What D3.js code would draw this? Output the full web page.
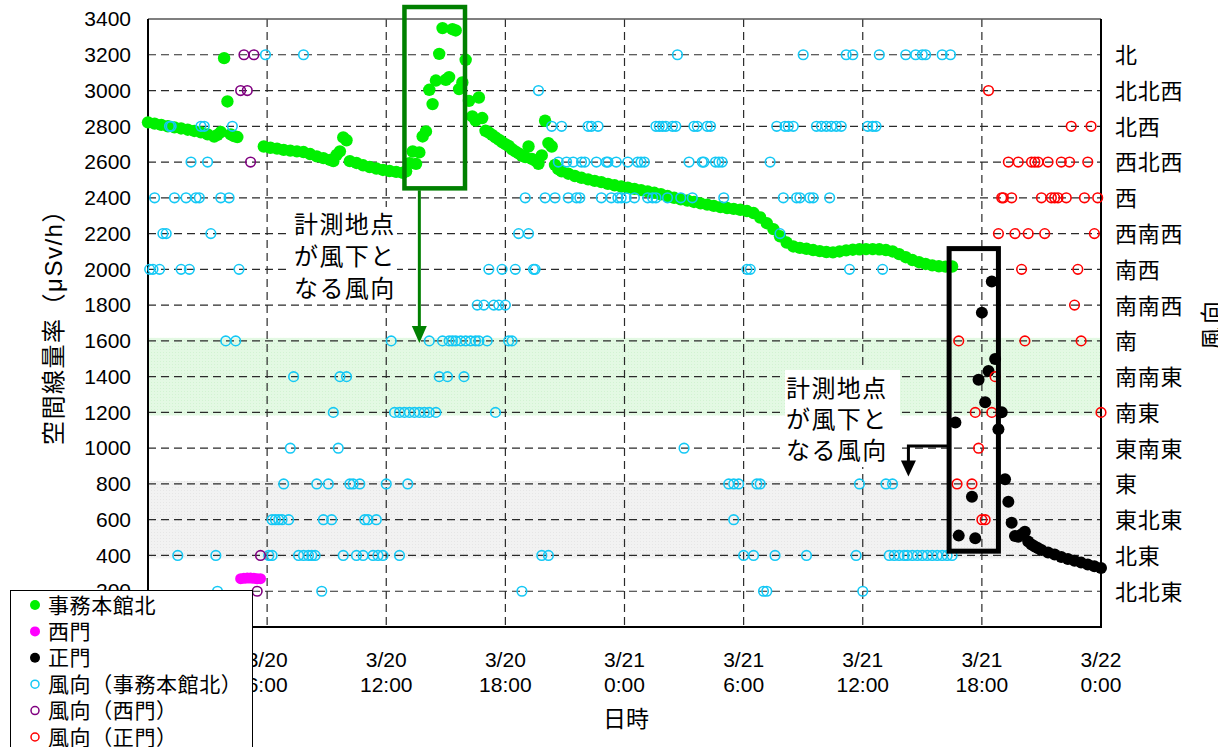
<!DOCTYPE html>
<html>
<head>
<meta charset="utf-8">
<script src="https://cdn.jsdelivr.net/npm/d3@7"></script>
<style>
  body { margin: 0; background: #fff; }
  svg { display: block; }
  text { font-family: "Liberation Sans", "Noto Sans CJK JP", sans-serif; fill: #000; }
  .cjk { font-family: "Noto Sans CJK JP", sans-serif; }
  .num { font-family: "Liberation Sans", Arial, sans-serif; }
</style>
</head>
<body>
<svg id="chart" width="1218" height="747"></svg>
<script>
// ---- axis values ----
const timeTicks = ["3/20 0:00", "3/20 6:00", "3/20 12:00", "3/20 18:00", "3/21 0:00",
                   "3/21 6:00", "3/21 12:00", "3/21 18:00", "3/22 0:00"];
const doseTicks = [0, 200, 400, 600, 800, 1000, 1200, 1400, 1600, 1800, 2000,
                   2200, 2400, 2600, 2800, 3000, 3200, 3400];
const directions = ["北北東", "北東", "東北東", "東", "東南東", "南東", "南南東", "南",
                    "南南西", "南西", "西南西", "西", "西北西", "北西", "北北西", "北"];
const legendLabels = ["事務本館北", "西門", "正門", "風向（事務本館北）", "風向（西門）", "風向（正門）"];

// shaded direction ranges (leeward sectors)
const leewardBand = ["南東", "南"];
const otherBand = ["北東", "東"];

// ---- air dose rate (μSv/h) ----
const officeDose = [
  ["3/20 0:00", 2822], ["3/20 0:20", 2815], ["3/20 0:40", 2808], ["3/20 1:00", 2800],
  ["3/20 1:20", 2794], ["3/20 1:40", 2788], ["3/20 2:00", 2781], ["3/20 2:20", 2774],
  ["3/20 2:40", 2766], ["3/20 3:00", 2755], ["3/20 3:20", 2742], ["3/20 3:30", 2752],
  ["3/20 3:40", 2768], ["3/20 3:50", 3181], ["3/20 4:00", 2939], ["3/20 4:10", 2755],
  ["3/20 4:20", 2745], ["3/20 4:30", 2740],
  ["3/20 5:50", 2687], ["3/20 6:10", 2680], ["3/20 6:30", 2675], ["3/20 6:50", 2668],
  ["3/20 7:10", 2664], ["3/20 7:30", 2660], ["3/20 7:50", 2656], ["3/20 8:10", 2645],
  ["3/20 8:30", 2632], ["3/20 8:50", 2622], ["3/20 9:10", 2612], ["3/20 9:20", 2605],
  ["3/20 9:30", 2640], ["3/20 9:40", 2660], ["3/20 9:50", 2738], ["3/20 10:00", 2722],
  ["3/20 10:10", 2605], ["3/20 10:30", 2595], ["3/20 10:50", 2582], ["3/20 11:10", 2572],
  ["3/20 11:30", 2564], ["3/20 11:50", 2556], ["3/20 12:10", 2550], ["3/20 12:30", 2545],
  ["3/20 12:50", 2540], ["3/20 13:00", 2548], ["3/20 13:10", 2594], ["3/20 13:20", 2659],
  ["3/20 13:30", 2590], ["3/20 13:40", 2654], ["3/20 13:50", 2743], ["3/20 14:00", 2771],
  ["3/20 14:10", 3004], ["3/20 14:20", 2924], ["3/20 14:30", 3056], ["3/20 14:40", 3205],
  ["3/20 14:50", 3349], ["3/20 15:00", 3060], ["3/20 15:10", 3075], ["3/20 15:20", 3343],
  ["3/20 15:30", 3336], ["3/20 15:40", 3008], ["3/20 15:50", 3045], ["3/20 16:00", 3172],
  ["3/20 16:10", 2942], ["3/20 16:20", 2855], ["3/20 16:30", 2832], ["3/20 16:40", 2961],
  ["3/20 16:50", 2846], ["3/20 17:00", 2775], ["3/20 17:10", 2765], ["3/20 17:20", 2752],
  ["3/20 17:30", 2738], ["3/20 17:40", 2725], ["3/20 17:50", 2712], ["3/20 18:00", 2700],
  ["3/20 18:10", 2690], ["3/20 18:20", 2672], ["3/20 18:30", 2660], ["3/20 18:40", 2648],
  ["3/20 18:50", 2635], ["3/20 19:00", 2628], ["3/20 19:10", 2687], ["3/20 19:20", 2618],
  ["3/20 19:30", 2608], ["3/20 19:40", 2590], ["3/20 19:50", 2637], ["3/20 20:00", 2831],
  ["3/20 20:10", 2706], ["3/20 20:20", 2687], ["3/20 20:30", 2584], ["3/20 20:40", 2560],
  ["3/20 20:50", 2548], ["3/20 21:10", 2535], ["3/20 21:30", 2522], ["3/20 21:50", 2512],
  ["3/20 22:10", 2503], ["3/20 22:30", 2495], ["3/20 22:50", 2488], ["3/20 23:10", 2478],
  ["3/20 23:30", 2470], ["3/20 23:50", 2463], ["3/21 0:10", 2457], ["3/21 0:30", 2450],
  ["3/21 0:50", 2443], ["3/21 1:10", 2436], ["3/21 1:30", 2428], ["3/21 1:50", 2420],
  ["3/21 2:10", 2410], ["3/21 2:30", 2400], ["3/21 2:50", 2392], ["3/21 3:10", 2385],
  ["3/21 3:30", 2377], ["3/21 3:50", 2369], ["3/21 4:10", 2362], ["3/21 4:30", 2355],
  ["3/21 4:50", 2348], ["3/21 5:10", 2343], ["3/21 5:30", 2338], ["3/21 5:50", 2333],
  ["3/21 6:10", 2326], ["3/21 6:30", 2315], ["3/21 6:50", 2290], ["3/21 7:10", 2258],
  ["3/21 7:30", 2225], ["3/21 7:50", 2185], ["3/21 8:10", 2150], ["3/21 8:30", 2128],
  ["3/21 8:50", 2120], ["3/21 9:10", 2115], ["3/21 9:30", 2108], ["3/21 9:50", 2102],
  ["3/21 10:10", 2097], ["3/21 10:30", 2095], ["3/21 10:50", 2100], ["3/21 11:10", 2106],
  ["3/21 11:30", 2110], ["3/21 11:50", 2112], ["3/21 12:10", 2113], ["3/21 12:30", 2113],
  ["3/21 12:50", 2112], ["3/21 13:10", 2108], ["3/21 13:30", 2100], ["3/21 13:50", 2085],
  ["3/21 14:10", 2068], ["3/21 14:30", 2052], ["3/21 14:50", 2040], ["3/21 15:10", 2030],
  ["3/21 15:30", 2022], ["3/21 15:50", 2017], ["3/21 16:10", 2015], ["3/21 16:30", 2016]
];

const westGateDose = [
  ["3/20 4:40", 270], ["3/20 4:50", 272], ["3/20 5:00", 274], ["3/20 5:10", 274],
  ["3/20 5:20", 272], ["3/20 5:30", 270], ["3/20 5:40", 270]
];

const mainGateDose = [
  ["3/21 16:40", 1143], ["3/21 16:50", 511], ["3/21 17:30", 729], ["3/21 17:40", 496],
  ["3/21 17:50", 1382], ["3/21 18:00", 1758], ["3/21 18:10", 1257], ["3/21 18:20", 1432],
  ["3/21 18:30", 1932], ["3/21 18:40", 1499], ["3/21 18:50", 1106], ["3/21 19:00", 1201],
  ["3/21 19:10", 826], ["3/21 19:20", 701], ["3/21 19:30", 583], ["3/21 19:40", 509],
  ["3/21 19:50", 505], ["3/21 20:00", 518], ["3/21 20:10", 532], ["3/21 20:20", 478],
  ["3/21 20:30", 462], ["3/21 20:40", 450], ["3/21 20:50", 440], ["3/21 21:00", 430],
  ["3/21 21:20", 417], ["3/21 21:40", 405], ["3/21 22:00", 392], ["3/21 22:20", 380],
  ["3/21 22:40", 370], ["3/21 23:00", 360], ["3/21 23:20", 350], ["3/21 23:40", 340],
  ["3/22 0:00", 330]
];

// ---- wind direction ----
const officeWind = [
  ["3/20 5:55", "北"], ["3/20 7:50", "北"], ["3/21 2:40", "北"], ["3/21 9:00", "北"],
  ["3/21 11:10", "北"], ["3/21 11:30", "北"], ["3/21 12:50", "北"], ["3/21 14:10", "北"],
  ["3/21 14:40", "北"], ["3/21 15:00", "北"], ["3/21 15:10", "北"], ["3/21 16:00", "北"],
  ["3/21 16:25", "北"],
  ["3/20 19:40", "北北西"],
  ["3/20 1:05", "北西"], ["3/20 1:10", "北西"], ["3/20 2:40", "北西"], ["3/20 2:50", "北西"],
  ["3/20 4:15", "北西"], ["3/20 20:20", "北西"], ["3/20 20:50", "北西"], ["3/20 22:10", "北西"],
  ["3/20 22:20", "北西"], ["3/20 22:40", "北西"], ["3/21 1:35", "北西"], ["3/21 1:45", "北西"],
  ["3/21 1:55", "北西"], ["3/21 2:05", "北西"], ["3/21 2:25", "北西"], ["3/21 2:35", "北西"],
  ["3/21 3:30", "北西"], ["3/21 3:40", "北西"], ["3/21 4:10", "北西"], ["3/21 4:20", "北西"],
  ["3/21 7:40", "北西"], ["3/21 8:05", "北西"], ["3/21 8:15", "北西"], ["3/21 8:30", "北西"],
  ["3/21 9:40", "北西"], ["3/21 9:55", "北西"], ["3/21 10:10", "北西"], ["3/21 10:25", "北西"],
  ["3/21 10:40", "北西"], ["3/21 10:55", "北西"], ["3/21 12:15", "北西"], ["3/21 12:30", "北西"],
  ["3/21 12:40", "北西"],
  ["3/20 2:10", "西北西"], ["3/20 3:00", "西北西"], ["3/20 20:40", "西北西"], ["3/20 21:05", "西北西"],
  ["3/20 21:25", "西北西"], ["3/20 21:50", "西北西"], ["3/20 22:00", "西北西"], ["3/20 22:35", "西北西"],
  ["3/20 23:05", "西北西"], ["3/20 23:10", "西北西"], ["3/20 23:35", "西北西"], ["3/21 0:10", "西北西"],
  ["3/21 0:40", "西北西"], ["3/21 0:50", "西北西"], ["3/21 1:00", "西北西"], ["3/21 3:15", "西北西"],
  ["3/21 3:55", "西北西"], ["3/21 4:00", "西北西"], ["3/21 4:35", "西北西"], ["3/21 4:45", "西北西"],
  ["3/21 4:55", "西北西"], ["3/21 7:20", "西北西"],
  ["3/20 0:20", "西"], ["3/20 1:20", "西"], ["3/20 1:55", "西"], ["3/20 2:25", "西"],
  ["3/20 2:35", "西"], ["3/20 3:40", "西"], ["3/20 4:05", "西"], ["3/20 19:00", "西"],
  ["3/20 20:00", "西"], ["3/20 20:30", "西"], ["3/20 21:10", "西"], ["3/20 21:35", "西"],
  ["3/20 21:45", "西"], ["3/20 22:50", "西"], ["3/20 23:20", "西"], ["3/20 23:40", "西"],
  ["3/20 23:50", "西"], ["3/21 0:05", "西"], ["3/21 0:30", "西"], ["3/21 1:10", "西"],
  ["3/21 1:25", "西"], ["3/21 1:35", "西"], ["3/21 2:10", "西"], ["3/21 2:50", "西"],
  ["3/21 3:25", "西"], ["3/21 5:00", "西"], ["3/21 8:00", "西"], ["3/21 8:40", "西"],
  ["3/21 8:50", "西"], ["3/21 9:20", "西"], ["3/21 9:30", "西"], ["3/21 10:20", "西"],
  ["3/20 0:45", "西南西"], ["3/20 0:55", "西南西"], ["3/20 3:10", "西南西"], ["3/20 18:40", "西南西"],
  ["3/20 19:10", "西南西"], ["3/21 7:50", "西南西"],
  ["3/20 0:05", "南西"], ["3/20 0:15", "南西"], ["3/20 0:35", "南西"], ["3/20 1:40", "南西"],
  ["3/20 2:05", "南西"], ["3/20 4:35", "南西"], ["3/20 17:10", "南西"], ["3/20 17:50", "南西"],
  ["3/20 18:30", "南西"], ["3/20 19:25", "南西"], ["3/20 19:30", "南西"], ["3/21 6:10", "南西"],
  ["3/21 6:20", "南西"], ["3/21 11:20", "南西"], ["3/21 13:00", "南西"],
  ["3/20 16:35", "南南西"], ["3/20 16:55", "南南西"], ["3/20 17:25", "南南西"], ["3/20 17:40", "南南西"],
  ["3/20 18:00", "南南西"],
  ["3/20 3:55", "南"], ["3/20 4:25", "南"], ["3/20 12:15", "南"], ["3/20 14:10", "南"],
  ["3/20 14:50", "南"], ["3/20 15:10", "南"], ["3/20 15:20", "南"], ["3/20 15:30", "南"],
  ["3/20 15:45", "南"], ["3/20 16:00", "南"], ["3/20 16:15", "南"], ["3/20 16:30", "南"],
  ["3/20 16:40", "南"], ["3/20 17:05", "南"], ["3/20 18:10", "南"], ["3/20 18:20", "南"],
  ["3/20 7:20", "南南東"], ["3/20 9:40", "南南東"], ["3/20 10:00", "南南東"], ["3/20 14:40", "南南東"],
  ["3/20 15:05", "南南東"], ["3/20 15:55", "南南東"],
  ["3/20 9:20", "南東"], ["3/20 12:25", "南東"], ["3/20 12:40", "南東"], ["3/20 12:55", "南東"],
  ["3/20 13:10", "南東"], ["3/20 13:25", "南東"], ["3/20 13:40", "南東"], ["3/20 13:55", "南東"],
  ["3/20 14:10", "南東"], ["3/20 14:30", "南東"], ["3/20 17:30", "南東"],
  ["3/20 7:10", "東南東"], ["3/20 9:35", "東南東"], ["3/21 3:00", "東南東"],
  ["3/20 6:50", "東"], ["3/20 8:30", "東"], ["3/20 9:05", "東"], ["3/20 10:10", "東"],
  ["3/20 10:20", "東"], ["3/20 10:40", "東"], ["3/20 12:00", "東"], ["3/20 13:05", "東"],
  ["3/21 5:15", "東"], ["3/21 5:30", "東"], ["3/21 5:45", "東"], ["3/21 6:40", "東"],
  ["3/21 6:50", "東"], ["3/21 11:50", "東"], ["3/21 13:10", "東"], ["3/21 13:30", "東"],
  ["3/20 6:15", "東北東"], ["3/20 6:25", "東北東"], ["3/20 6:35", "東北東"], ["3/20 6:45", "東北東"],
  ["3/20 7:05", "東北東"], ["3/20 8:50", "東北東"], ["3/20 9:15", "東北東"], ["3/20 10:55", "東北東"],
  ["3/20 11:05", "東北東"], ["3/20 11:30", "東北東"], ["3/21 5:30", "東北東"],
  ["3/20 1:30", "北東"], ["3/20 3:25", "北東"], ["3/20 6:05", "北東"], ["3/20 6:15", "北東"],
  ["3/20 7:35", "北東"], ["3/20 7:50", "北東"], ["3/20 8:05", "北東"], ["3/20 8:15", "北東"],
  ["3/20 8:25", "北東"], ["3/20 9:50", "北東"], ["3/20 10:30", "北東"], ["3/20 10:50", "北東"],
  ["3/20 11:20", "北東"], ["3/20 11:35", "北東"], ["3/20 11:50", "北東"], ["3/20 12:40", "北東"],
  ["3/20 19:50", "北東"], ["3/20 20:10", "北東"], ["3/21 6:00", "北東"], ["3/21 6:30", "北東"],
  ["3/21 7:35", "北東"], ["3/21 9:10", "北東"], ["3/21 11:40", "北東"], ["3/21 13:20", "北東"],
  ["3/21 13:35", "北東"], ["3/21 13:50", "北東"], ["3/21 14:05", "北東"], ["3/21 14:15", "北東"],
  ["3/21 14:30", "北東"], ["3/21 14:45", "北東"], ["3/21 15:00", "北東"], ["3/21 15:15", "北東"],
  ["3/21 15:30", "北東"], ["3/21 15:45", "北東"], ["3/21 16:00", "北東"], ["3/21 16:15", "北東"],
  ["3/21 16:30", "北東"],
  ["3/20 3:30", "北北東"], ["3/20 8:45", "北北東"], ["3/20 18:50", "北北東"], ["3/21 7:00", "北北東"],
  ["3/21 7:10", "北北東"], ["3/21 12:00", "北北東"]
];

const westGateWind = [
  ["3/20 4:40", "北北西"], ["3/20 4:50", "北"], ["3/20 5:00", "北北西"], ["3/20 5:10", "西北西"],
  ["3/20 5:20", "北"], ["3/20 5:30", "北北東"], ["3/20 5:40", "北東"]
];

const mainGateWind = [
  ["3/21 16:45", "東"], ["3/21 16:50", "南"], ["3/21 17:30", "東"], ["3/21 17:40", "南東"],
  ["3/21 17:50", "東南東"], ["3/21 18:00", "東北東"], ["3/21 18:10", "東北東"], ["3/21 18:20", "北北西"],
  ["3/21 18:30", "南東"], ["3/21 18:40", "南南東"], ["3/21 18:50", "西南西"], ["3/21 19:00", "西"],
  ["3/21 19:05", "西"], ["3/21 19:20", "西北西"], ["3/21 19:30", "西"], ["3/21 19:40", "西南西"],
  ["3/21 19:50", "西北西"], ["3/21 20:00", "南西"], ["3/21 20:10", "南"], ["3/21 20:20", "西南西"],
  ["3/21 20:30", "西北西"], ["3/21 20:40", "西北西"], ["3/21 20:50", "西北西"], ["3/21 21:00", "西"],
  ["3/21 21:10", "西南西"], ["3/21 21:20", "西北西"], ["3/21 21:30", "西"], ["3/21 21:40", "西"],
  ["3/21 21:50", "西"], ["3/21 22:00", "西北西"], ["3/21 22:15", "西"], ["3/21 22:25", "西北西"],
  ["3/21 22:30", "北西"], ["3/21 22:40", "南南西"], ["3/21 22:50", "南西"], ["3/21 23:00", "南"],
  ["3/21 23:10", "西"], ["3/21 23:20", "西北西"], ["3/21 23:30", "北西"], ["3/21 23:40", "西南西"],
  ["3/21 23:50", "西"], ["3/22 0:00", "南東"]
];

// ---- helpers ----
function parseTime(s) {
  const [md, hm] = s.split(" ");
  const [mo, d] = md.split("/").map(Number);
  const [h, mi] = hm.split(":").map(Number);
  return new Date(2011, mo - 1, d, h, mi);
}
const dirIndex = name => directions.indexOf(name) + 1;

// ---- layout ----
const svg = d3.select("#chart");
const plot = { left: 148, right: 1101, top: 19, bottom: 627 };

const x = d3.scaleTime()
  .domain([parseTime(timeTicks[0]), parseTime(timeTicks[timeTicks.length - 1])])
  .range([plot.left, plot.right]);
const y = d3.scaleLinear().domain([0, 3400]).range([plot.bottom, plot.top]);
const yDir = d3.scaleLinear().domain([0, directions.length + 1]).range([plot.bottom, plot.top]);

svg.append("rect").attr("width", 1218).attr("height", 747).attr("fill", "#fff");

// dotted fill texture for the shaded sectors
const defs = svg.append("defs");
function texture(id, base, dot) {
  const p = defs.append("pattern").attr("id", id).attr("patternUnits", "userSpaceOnUse")
    .attr("width", 3).attr("height", 3);
  p.append("rect").attr("width", 3).attr("height", 3).attr("fill", base);
  p.append("rect").attr("x", 1).attr("y", 1).attr("width", 1).attr("height", 1).attr("fill", dot);
  return `url(#${id})`;
}
const greenFill = texture("texGreen", "#e3f9e3", "#d2f3d2");
const grayFill = texture("texGray", "#f2f2f2", "#e6e6e6");

function band(range, fill) {
  const lo = yDir(dirIndex(range[0])) + 3;
  const hi = yDir(dirIndex(range[1])) - 3;
  svg.append("rect")
    .attr("x", plot.left).attr("y", hi)
    .attr("width", plot.right - plot.left).attr("height", lo - hi)
    .attr("fill", fill);
}
band(otherBand, grayFill);
band(leewardBand, greenFill);

// ---- grid ----
const grid = svg.append("g").attr("stroke", "#2a2a2a").attr("stroke-width", 1.2)
  .attr("stroke-dasharray", "8,5");
grid.selectAll("line.h")
  .data(doseTicks.filter(v => v > 0 && v < 3400))
  .join("line").attr("class", "h")
  .attr("x1", plot.left).attr("x2", plot.right)
  .attr("y1", d => y(d)).attr("y2", d => y(d));
grid.selectAll("line.v")
  .data(timeTicks.slice(1, -1))
  .join("line").attr("class", "v")
  .attr("y1", plot.top).attr("y2", plot.bottom)
  .attr("x1", d => x(parseTime(d))).attr("x2", d => x(parseTime(d)));

// ---- note backgrounds ----
svg.append("rect").attr("x", 290).attr("y", 207).attr("width", 107).attr("height", 93).attr("fill", "#fff");
svg.append("rect").attr("x", 785).attr("y", 370).attr("width", 115).attr("height", 97).attr("fill", "#fff");

// ---- frame ----
svg.append("line").attr("x1", plot.left).attr("x2", plot.right).attr("y1", plot.top).attr("y2", plot.top)
  .attr("stroke", "#555").attr("stroke-width", 1.5);
svg.append("line").attr("x1", plot.left).attr("x2", plot.left).attr("y1", plot.top).attr("y2", plot.bottom)
  .attr("stroke", "#000").attr("stroke-width", 2);
svg.append("line").attr("x1", plot.right).attr("x2", plot.right).attr("y1", plot.top).attr("y2", plot.bottom)
  .attr("stroke", "#000").attr("stroke-width", 2);
svg.append("line").attr("x1", plot.left - 1).attr("x2", plot.right + 1).attr("y1", plot.bottom).attr("y2", plot.bottom)
  .attr("stroke", "#000").attr("stroke-width", 2);

// ---- dose dots ----
const doseSeries = [
  { data: officeDose, color: "#00f000", r: 6.2 },
  { data: westGateDose, color: "#ff00ff", r: 5.5 },
  { data: mainGateDose, color: "#000000", r: 6 }
];
doseSeries.forEach(s => {
  svg.append("g").selectAll("circle").data(s.data).join("circle")
    .attr("cx", d => x(parseTime(d[0])))
    .attr("cy", d => y(d[1]))
    .attr("r", s.r)
    .attr("fill", s.color);
});

// ---- wind direction rings ----
const windSeries = [
  { data: officeWind, color: "#14c8f5" },
  { data: westGateWind, color: "#800080" },
  { data: mainGateWind, color: "#ff0000" }
];
windSeries.forEach(s => {
  svg.append("g").selectAll("circle").data(s.data).join("circle")
    .attr("cx", d => x(parseTime(d[0])))
    .attr("cy", d => yDir(dirIndex(d[1])))
    .attr("r", 4.8)
    .attr("fill", "none")
    .attr("stroke", s.color)
    .attr("stroke-width", 1.6);
});

// ---- notes: leeward periods ----
const noteLines = ["計測地点", "が風下と", "なる風向"];

// first episode (事務本館北)
const g1 = svg.append("g").attr("stroke", "#008000").attr("fill", "none");
const b1 = { x0: x(parseTime("3/20 12:55")), x1: x(parseTime("3/20 15:58")), y0: y(3467), y1: y(2453) };
g1.append("rect").attr("x", b1.x0).attr("y", b1.y0).attr("width", b1.x1 - b1.x0).attr("height", b1.y1 - b1.y0)
  .attr("stroke-width", 4.5);
const a1x = x(parseTime("3/20 13:40"));
const a1tip = yDir(dirIndex("南")) + 2;
g1.append("line").attr("x1", a1x).attr("x2", a1x).attr("y1", b1.y1 + 2).attr("y2", a1tip - 14).attr("stroke-width", 3);
svg.append("path").attr("fill", "#008000")
  .attr("d", `M${a1x - 7.5},${a1tip - 17}L${a1x + 7.5},${a1tip - 17}L${a1x},${a1tip}Z`);
svg.append("g").selectAll("text").data(noteLines).join("text").attr("class", "cjk")
  .attr("x", 294).attr("y", (d, i) => 233 + i * 32)
  .style("font-size", "24px").style("letter-spacing", "1.4px").text(d => d);

// second episode (正門)
const g2 = svg.append("g").attr("stroke", "#000").attr("fill", "none");
const b2 = { x0: x(parseTime("3/21 16:21")), x1: x(parseTime("3/21 18:50")), y0: y(2116), y1: y(424) };
g2.append("rect").attr("x", b2.x0).attr("y", b2.y0).attr("width", b2.x1 - b2.x0).attr("height", b2.y1 - b2.y0)
  .attr("stroke-width", 5);
const a2x = x(parseTime("3/21 14:18"));
const a2y = y(1012);
const a2tip = y(841);
g2.append("polyline").attr("points", `${b2.x0},${a2y} ${a2x},${a2y} ${a2x},${a2tip - 14}`)
  .attr("stroke-width", 3);
svg.append("path").attr("fill", "#000")
  .attr("d", `M${a2x - 7.5},${a2tip - 16}L${a2x + 7.5},${a2tip - 16}L${a2x},${a2tip}Z`);
svg.append("g").selectAll("text").data(noteLines).join("text").attr("class", "cjk")
  .attr("x", 786).attr("y", (d, i) => 397 + i * 31)
  .style("font-size", "24px").style("letter-spacing", "1.4px").text(d => d);

// ---- axes ----
const leftAxis = svg.append("g").attr("transform", `translate(${plot.left},0)`)
  .call(d3.axisLeft(y).tickValues(doseTicks).tickSize(0).tickPadding(17).tickFormat(d3.format("d")));
leftAxis.select(".domain").remove();
leftAxis.attr("font-family", null).attr("font-size", null);
leftAxis.selectAll("text").attr("class", "num").style("font-size", "21px");

const rightAxis = svg.append("g").attr("transform", `translate(${plot.right},0)`)
  .call(d3.axisRight(yDir).tickValues(directions.map((d, i) => i + 1)).tickSize(0).tickPadding(14)
    .tickFormat(i => directions[i - 1]));
rightAxis.select(".domain").remove();
rightAxis.attr("font-family", null).attr("font-size", null);
rightAxis.selectAll("text").attr("class", "cjk").style("font-size", "22px").style("letter-spacing", "0.7px")
  .attr("dy", "0.36em");

// two-line time labels: date above, clock time below
const xLabelRows = [
  { part: 0, y: 667 },
  { part: 1, y: 692 }
];
xLabelRows.forEach(row => {
  svg.append("g").selectAll("text").data(timeTicks).join("text")
    .attr("class", "num")
    .attr("text-anchor", "middle")
    .attr("x", d => x(parseTime(d)))
    .attr("y", row.y)
    .style("font-size", "21px")
    .text(d => d.split(" ")[row.part]);
});

svg.append("text").attr("class", "cjk").attr("x", 626).attr("y", 727).attr("text-anchor", "middle")
  .style("font-size", "23px").text("日時");

svg.append("text").attr("transform", "translate(62,321) rotate(-90)").attr("text-anchor", "middle")
  .style("font-size", "24px").style("letter-spacing", "1.5px").text("空間線量率（μSv/h）");

svg.append("text").attr("class", "cjk").attr("transform", "translate(1220,324) rotate(-90)")
  .attr("text-anchor", "middle").style("font-size", "23px").style("letter-spacing", "3px").text("風向");

// ---- legend ----
const legend = svg.append("g");
legend.append("rect").attr("x", 10.5).attr("y", 590.5).attr("width", 242).attr("height", 170)
  .attr("fill", "#fff").attr("stroke", "#000").attr("stroke-width", 1);
const legendMarks = [
  { fill: "#00f000" }, { fill: "#ff00ff" }, { fill: "#000000" },
  { stroke: "#14c8f5" }, { stroke: "#800080" }, { stroke: "#ff0000" }
];
const rows = legend.selectAll("g.row").data(legendLabels).join("g").attr("class", "row")
  .attr("transform", (d, i) => `translate(0,${605 + i * 26.4})`);
rows.append("circle").attr("cx", 35).attr("cy", 0)
  .attr("r", (d, i) => legendMarks[i].fill ? 5 : 4)
  .attr("fill", (d, i) => legendMarks[i].fill || "none")
  .attr("stroke", (d, i) => legendMarks[i].stroke || "none")
  .attr("stroke-width", 1.5);
rows.append("text").attr("class", "cjk").attr("x", 48).attr("y", 0).attr("dy", "0.36em")
  .style("font-size", "21px").style("letter-spacing", "0.6px").text(d => d);
</script>
</body>
</html>
